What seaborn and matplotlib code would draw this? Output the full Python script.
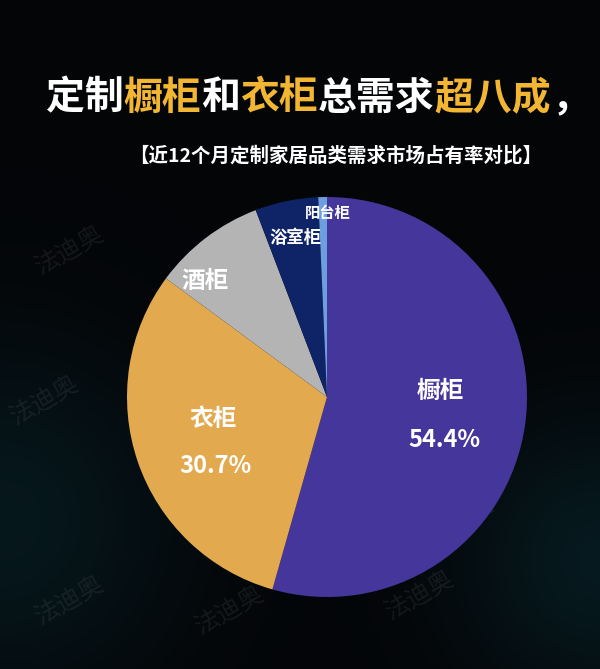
import numpy as np
import matplotlib.pyplot as plt
import seaborn as sns

# 近12个月定制家居品类需求市场占有率
categories = ['橱柜', '衣柜', '酒柜', '浴室柜', '阳台柜']
shares = [54.4, 30.7, 9.1, 5.1, 0.7]
colors = ['#45369b', '#e2a94e', '#b4b4b4', '#0f2467', '#6c9ee0']

title_parts = [('定制', 'white'), ('橱柜', '#f2b632'), ('和', 'white'), ('衣柜', '#f2b632'),
               ('总需求', 'white'), ('超八成', '#f2b632'), ('，', 'white')]
subtitle = '【近12个月定制家居品类需求市场占有率对比】'

sns.set_theme(style='dark')
plt.rcParams['font.family'] = ['Noto Sans CJK SC', 'DejaVu Sans']

fig = plt.figure(figsize=(6, 6.69), dpi=100)
fig.patch.set_facecolor('#04060a')

# background layer in pixel coords
bg = fig.add_axes([0, 0, 1, 1], zorder=0)
bg.set_xlim(0, 600)
bg.set_ylim(669, 0)
bg.axis('off')
yy, xx = np.mgrid[0:669, 0:600]
glow = np.exp(-((xx - 600) ** 2 + (yy - 560) ** 2) / 2e4) * 0.5 + np.exp(-((xx - 0) ** 2 + (yy - 520) ** 2) / 3e4) * 0.45
img = np.zeros((669, 600, 3))
img[..., 0] = 0.015 + 0.02 * glow
img[..., 1] = 0.02 + 0.16 * glow
img[..., 2] = 0.03 + 0.18 * glow
bg.imshow(img, extent=(0, 600, 669, 0), aspect='auto', zorder=0)

# title, drawn piece by piece so colours can change
fs_title = 28
r = fig.canvas.get_renderer()
widths = []
for txt, c in title_parts:
    t = bg.text(0, 0, txt, fontsize=fs_title, fontweight='heavy')
    widths.append(t.get_window_extent(renderer=r).width)
    t.remove()
x = 318 - sum(widths) / 2
for (txt, c), w in zip(title_parts, widths):
    bg.text(x, 98, txt, fontsize=fs_title, fontweight='heavy', color=c, va='center', ha='left')
    x += w

bg.text(336, 156, subtitle, fontsize=14, fontweight='bold', color='white', ha='center', va='center')

# faint watermarks
for wx, wy in [(70, 600), (230, 610), (420, 595), (70, 250), (45, 400), (470, 410), (460, 520)]:
    bg.text(wx, wy, '法迪奥', fontsize=18, color='white', alpha=0.07, rotation=30, ha='center', va='center')

# pie
cx, cy, rad = 327, 397, 200
ax = fig.add_axes([(cx - rad) / 600, (669 - cy - rad) / 669, 2 * rad / 600, 2 * rad / 669], zorder=1)
ax.pie(shares, colors=colors, startangle=90, counterclock=False, radius=1,
       wedgeprops=dict(linewidth=0))
ax.set_xlim(-1, 1)
ax.set_ylim(-1, 1)
ax.set_aspect('auto')
ax.axis('off')

# slice labels on an overlay layer
top = fig.add_axes([0, 0, 1, 1], zorder=2)
top.set_xlim(0, 600)
top.set_ylim(669, 0)
top.axis('off')
top.patch.set_alpha(0)

lab = dict(fontweight='bold', color='white', ha='center', va='center')
top.text(440, 391, categories[0], fontsize=17, **lab)
top.text(444, 440, f'{shares[0]}%', fontsize=17, **lab)
top.text(213, 419, categories[1], fontsize=17, **lab)
top.text(215, 466, f'{shares[1]}%', fontsize=17, **lab)
top.text(205, 281, categories[2], fontsize=17, **lab)
top.text(295, 238, categories[3], fontsize=12.5, **lab)
top.text(328, 213, categories[4], fontsize=11, **lab)

fig.savefig('out.png', dpi=100, facecolor=fig.get_facecolor())
